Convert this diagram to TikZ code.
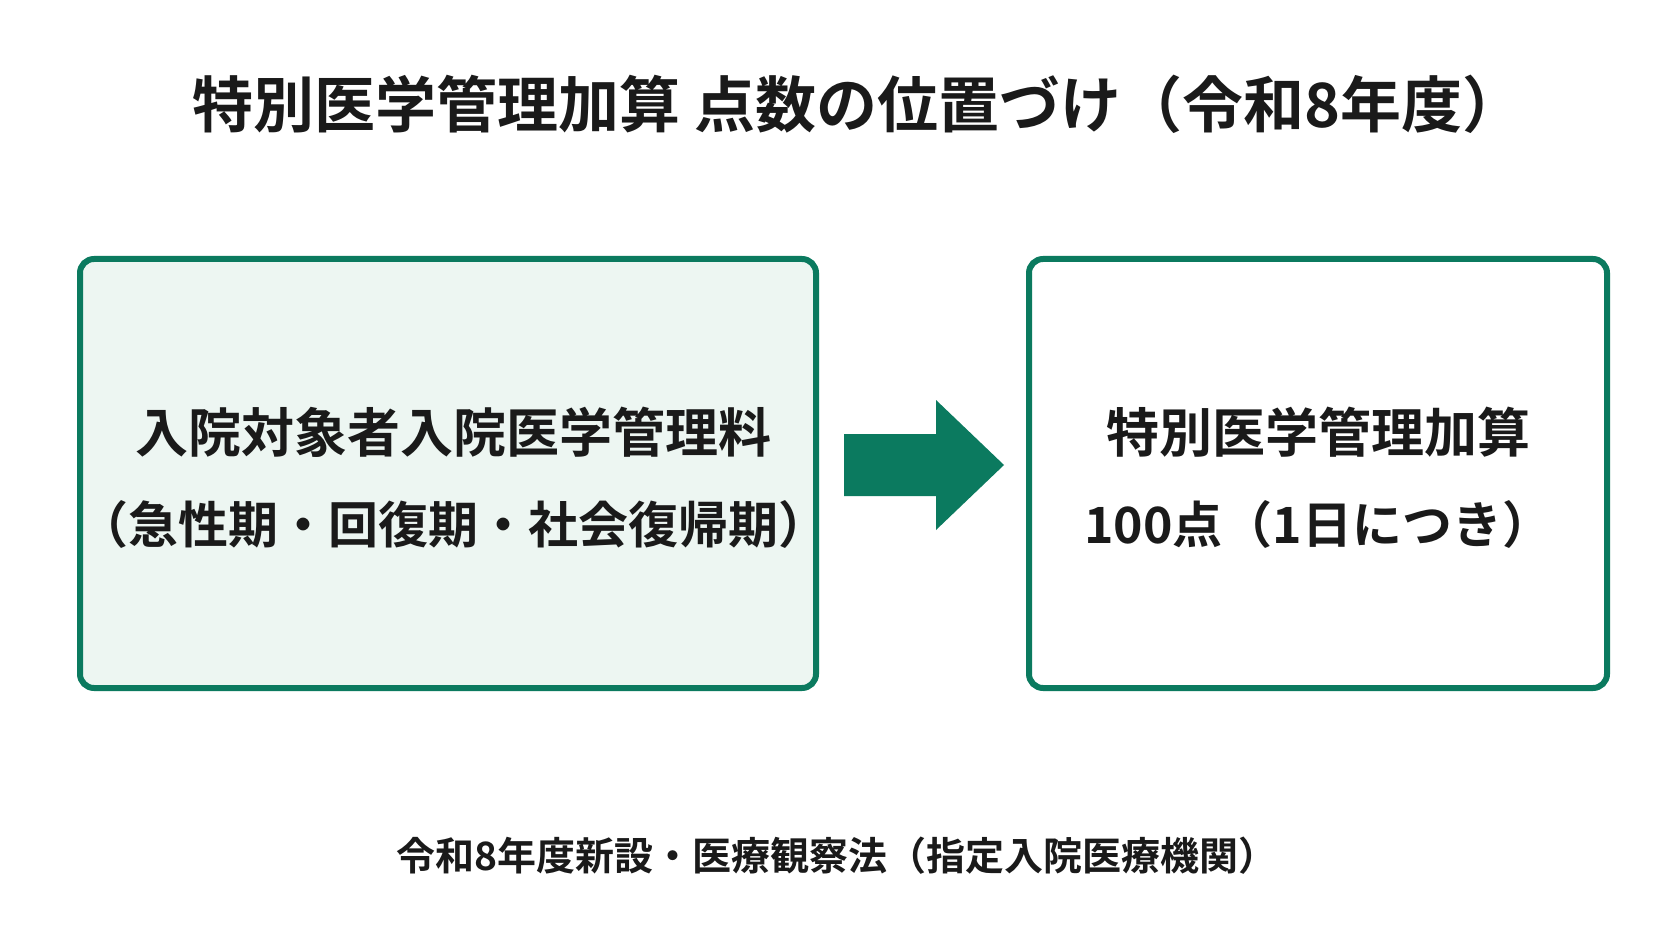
\documentclass[tikz,border=0pt]{standalone}
\usepackage{fontspec}
\newfontfamily\jp{Noto Sans CJK JP Bold}
\definecolor{grn}{HTML}{0B7A5F}
\definecolor{lgrn}{HTML}{EDF6F2}
\definecolor{ink}{HTML}{1A1A1A}
\begin{document}
\begin{tikzpicture}[x=1pt,y=-1pt,
  box/.style={draw=grn,line width=6pt,rounded corners=14pt},
  txt/.style={text=ink,font=\jp,align=center,inner sep=0}]
\useasboundingbox[fill=white] (0,0) rectangle (1672,941);
\node[txt,font=\jp\fontsize{61}{66}\selectfont] (title) at (858,104) {特別医学管理加算 点数の位置づけ（令和8年度）};
\draw[box,fill=lgrn] (80,259) rectangle (816,688);
\draw[box,fill=white] (1029,259) rectangle (1607,688);
\node[txt,font=\jp\fontsize{53}{58}\selectfont] (l1) at (453,432) {入院対象者入院医学管理料};
\node[txt,font=\jp\fontsize{50}{56}\selectfont] (l2) at (453,524) {（急性期・回復期・社会復帰期）};
\node[txt,font=\jp\fontsize{53}{58}\selectfont] (r1) at (1318,432) {特別医学管理加算};
\node[txt,font=\jp\fontsize{50}{56}\selectfont] (r2) at (1318,524) {100点（1日につき）};
\fill[grn] (844,434) -- (936,434) -- (936,400) -- (1004,465) -- (936,530) -- (936,496) -- (844,496) -- cycle;
\node[txt,font=\jp\fontsize{39}{44}\selectfont] (foot) at (837,856) {令和8年度新設・医療観察法（指定入院医療機関）};
\end{tikzpicture}
\end{document}
